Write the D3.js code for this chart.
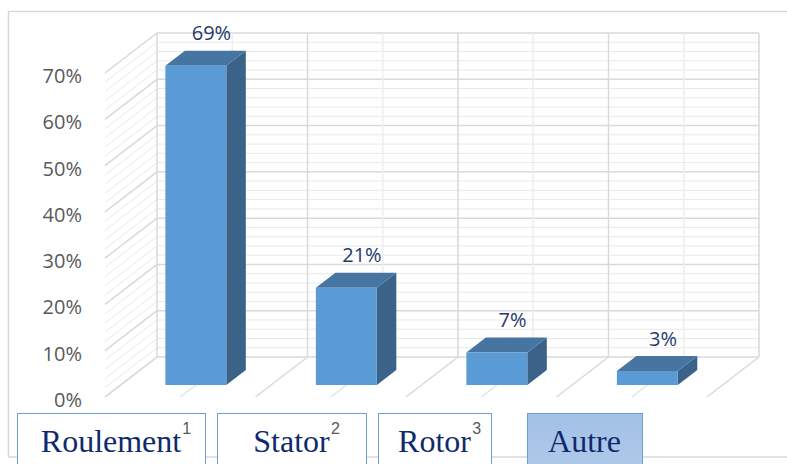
<!DOCTYPE html>
<html>
<head>
<meta charset="utf-8">
<script src="https://cdn.jsdelivr.net/npm/d3@7"></script>
<style>
  html, body { margin: 0; padding: 0; background: #ffffff; }
  svg { display: block; }
</style>
</head>
<body>
<svg id="chart" width="787" height="464"></svg>
<script>
// Failure sources of the machine and their share
const categories = ["Roulement", "Stator", "Rotor", "Autre"];
const shares = [0.69, 0.21, 0.07, 0.03];
const valueLabels = ["69%", "21%", "7%", "3%"];
const tickValues = [0, 0.1, 0.2, 0.3, 0.4, 0.5, 0.6, 0.7];
const tickLabels = ["0%", "10%", "20%", "30%", "40%", "50%", "60%", "70%"];
const footnoteMarks = ["1", "2", "3", ""];

// Layout of the caption boxes under the floor (left / right edges)
const captionBoxes = [
  { x0: 17, x1: 205 },
  { x0: 217, x1: 366 },
  { x0: 378, x1: 491 },
  { x0: 527, x1: 642 }
];

const svg = d3.select("#chart");

// Back wall scales
const x = d3.scaleBand().domain(categories).range([157, 759]);
const y = d3.scaleLinear().domain([0, 0.7]).range([357, 33]);

// Oblique depth: t = 0 is the back wall, t = 1 the front edge of the floor
const depth = { dx: -52, dy: 40 };
const proj = (px, py, t) => [px + depth.dx * t, py + depth.dy * t];

const barFront = 0.7, barBack = 0.325;
const barWidthRatio = 0.405;

const majorGrid = "#d9d9d9", minorGrid = "#e9e9e9", centerGrid = "#eeeeee";

// Outer chart frame
svg.append("rect")
  .attr("x", 8.5).attr("y", 11.5)
  .attr("width", 820).attr("height", 445.5)
  .attr("fill", "#ffffff")
  .attr("stroke", "#d9d9d9").attr("stroke-width", 1.5);

const grid = svg.append("g").attr("fill", "none");

// Minor and major horizontal lines: back wall + side wall diagonals
const minorSteps = d3.range(0, 0.7001, 0.02);
minorSteps.forEach(v => {
  const isMajor = Math.abs(Math.round(v * 10) - v * 10) < 1e-6;
  const col = isMajor ? majorGrid : minorGrid;
  const yy = y(v);
  grid.append("line")
    .attr("x1", x.range()[0]).attr("x2", x.range()[1])
    .attr("y1", yy).attr("y2", yy)
    .attr("stroke", col).attr("stroke-width", isMajor ? 1.5 : 1);
  const [fx, fy] = proj(x.range()[0], yy, 1);
  grid.append("line")
    .attr("x1", x.range()[0]).attr("y1", yy)
    .attr("x2", fx).attr("y2", fy)
    .attr("stroke", col).attr("stroke-width", isMajor ? 1.5 : 1);
});

// Vertical lines on the back wall and depth lines on the floor
const boundaries = categories.map(c => x(c)).concat([x.range()[1]]);
const centers = categories.map(c => x(c) + x.bandwidth() / 2);

centers.forEach(cx => {
  grid.append("line")
    .attr("x1", cx).attr("x2", cx).attr("y1", y(0.7)).attr("y2", y(0))
    .attr("stroke", centerGrid).attr("stroke-width", 1.5);
  const [fx, fy] = proj(cx, y(0), 1);
  grid.append("line")
    .attr("x1", cx).attr("y1", y(0)).attr("x2", fx).attr("y2", fy)
    .attr("stroke", "#e3e3e3").attr("stroke-width", 1.5);
});
boundaries.forEach(bx => {
  grid.append("line")
    .attr("x1", bx).attr("x2", bx).attr("y1", y(0.7)).attr("y2", y(0))
    .attr("stroke", majorGrid).attr("stroke-width", 1.5);
  const [fx, fy] = proj(bx, y(0), 1);
  grid.append("line")
    .attr("x1", bx).attr("y1", y(0)).attr("x2", fx).attr("y2", fy)
    .attr("stroke", majorGrid).attr("stroke-width", 1.5);
});

// Value axis labels on the front plane
const axisG = svg.append("g");
tickValues.forEach((v, i) => {
  const [, fy] = proj(0, y(v), 1);
  axisG.append("text")
    .attr("x", 82).attr("y", fy + 2.5)
    .attr("text-anchor", "end")
    .attr("dominant-baseline", "central")
    .attr("font-family", "'Open Sans', sans-serif")
    .attr("font-size", 20)
    .attr("fill", "#595959")
    .text(tickLabels[i]);
});

// 3D bars
const bars = svg.append("g");
const pts = arr => arr.map(p => p.join(",")).join(" ");
categories.forEach((c, i) => {
  const v = shares[i];
  const cx = x(c) + x.bandwidth() / 2;
  const w = x.bandwidth() * barWidthRatio;
  const xl = cx - w / 2, xr = cx + w / 2;
  const yTop = y(v), yBot = y(0);

  const fTL = proj(xl, yTop, barFront), fTR = proj(xr, yTop, barFront);
  const fBL = proj(xl, yBot, barFront), fBR = proj(xr, yBot, barFront);
  const bTL = proj(xl, yTop, barBack), bTR = proj(xr, yTop, barBack);
  const bBR = proj(xr, yBot, barBack);

  // side face
  bars.append("polygon")
    .attr("points", pts([fTR, bTR, bBR, fBR]))
    .attr("fill", "#3b6288");
  // top face
  bars.append("polygon")
    .attr("points", pts([fTL, bTL, bTR, fTR]))
    .attr("fill", "#4675a2");
  // front face
  bars.append("polygon")
    .attr("points", pts([fTL, fTR, fBR, fBL]))
    .attr("fill", "#5b9bd5");

  // value label above the bar
  const [lx] = proj(cx, yTop, 0.4);
  const [, backTopY] = proj(cx, yTop, barBack);
  bars.append("text")
    .attr("x", lx)
    .attr("y", backTopY - 18)
    .attr("text-anchor", "middle")
    .attr("dominant-baseline", "central")
    .attr("font-family", "'Open Sans', sans-serif")
    .attr("font-size", 20)
    .attr("fill", "#1f3a6b")
    .text(valueLabels[i]);
});

// Caption boxes with category names
const defs = svg.append("defs");
const grad = defs.append("linearGradient")
  .attr("id", "capFill").attr("x1", 0).attr("x2", 0).attr("y1", 0).attr("y2", 1);
grad.append("stop").attr("offset", 0).attr("stop-color", "#a3c1e6");
grad.append("stop").attr("offset", 1).attr("stop-color", "#aecaea");

const caps = svg.append("g");
categories.forEach((c, i) => {
  const b = captionBoxes[i];
  const highlighted = footnoteMarks[i] === "";
  caps.append("rect")
    .attr("x", b.x0 + 0.5).attr("y", 413.5)
    .attr("width", b.x1 - b.x0).attr("height", 60)
    .attr("fill", highlighted ? "url(#capFill)" : "#ffffff")
    .attr("stroke", "#6d9fd6").attr("stroke-width", 1);
  const t = caps.append("text")
    .attr("x", (b.x0 + b.x1) / 2)
    .attr("y", 452)
    .attr("text-anchor", "middle")
    .attr("font-family", "'Liberation Serif', 'Times New Roman', serif")
    .attr("font-size", 32)
    .attr("fill", "#0e2a6c")
    .text(c);
  if (footnoteMarks[i]) {
    const bb = t.node().getBBox();
    caps.append("text")
      .attr("x", bb.x + bb.width + 1)
      .attr("y", 434)
      .attr("font-family", "'Liberation Sans', Arial, sans-serif")
      .attr("font-size", 16)
      .attr("fill", "#595959")
      .text(footnoteMarks[i]);
  }
});
</script>
</body>
</html>
